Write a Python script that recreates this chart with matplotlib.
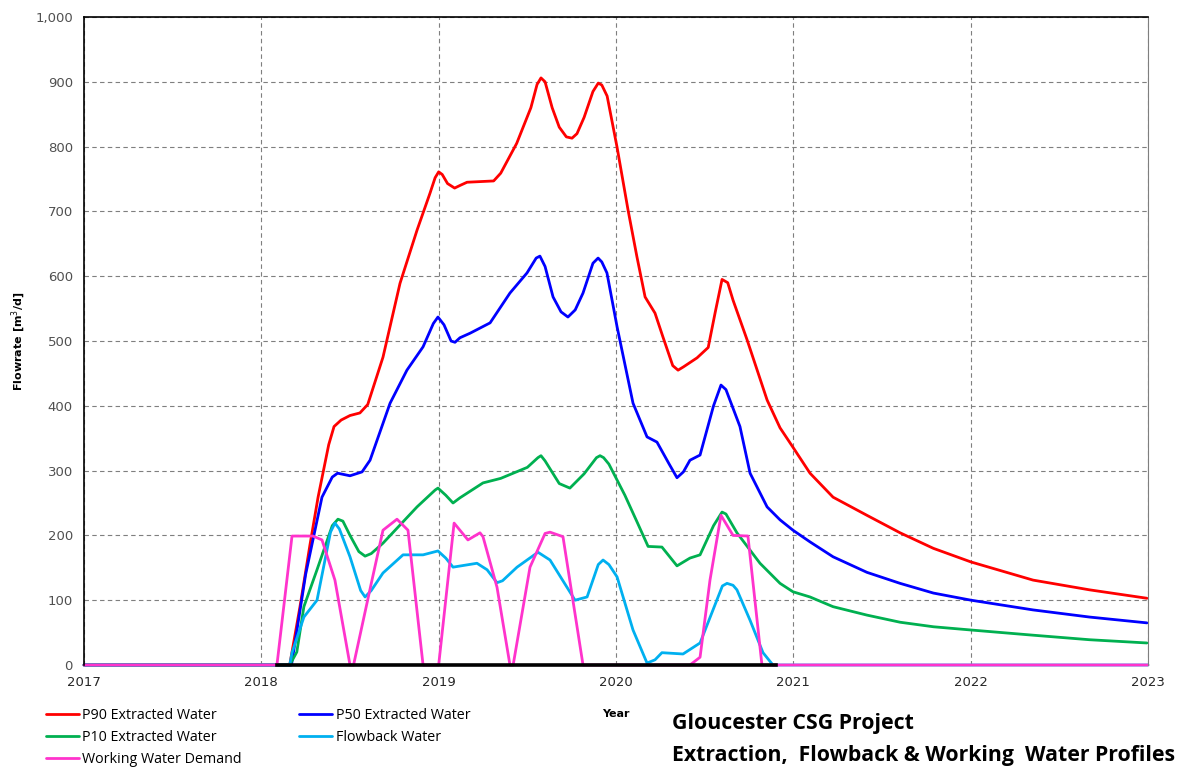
import matplotlib
matplotlib.use("Agg")
import matplotlib.pyplot as plt
from matplotlib.ticker import FuncFormatter

# ---------------- data ----------------
p90_x = [2017.0, 2018.16, 2018.218, 2018.274, 2018.32, 2018.38, 2018.41, 2018.45, 2018.5, 2018.556,
         2018.6, 2018.686, 2018.782, 2018.878, 2018.951, 2018.98, 2019.0, 2019.02, 2019.05, 2019.09,
         2019.12, 2019.16, 2019.31, 2019.35, 2019.44, 2019.52, 2019.555, 2019.577, 2019.6, 2019.64,
         2019.68, 2019.72, 2019.752, 2019.78, 2019.82, 2019.87, 2019.9, 2019.92, 2019.95, 2020.006,
         2020.068, 2020.118, 2020.164, 2020.22, 2020.265, 2020.32, 2020.35, 2020.38, 2020.457, 2020.52,
         2020.56, 2020.598, 2020.63, 2020.66, 2020.739, 2020.852, 2020.925, 2020.998, 2021.094, 2021.224,
         2021.415, 2021.602, 2021.79, 2022.002, 2022.352, 2022.67, 2022.994]
p90_y = [0, 0, 90, 185, 259, 340, 368, 378, 385, 389,
         402, 475, 589, 671, 728, 752, 761, 757, 743, 736,
         740, 745, 747, 759, 805, 860, 896, 906, 900, 860,
         830, 815, 813, 820, 845, 885, 898, 895, 878, 799,
         702, 630, 568, 543, 506, 462, 455, 460, 474, 490,
         545, 595, 590, 563, 502, 409, 366, 336, 296, 259,
         231, 204, 180, 159, 131, 116, 103]

p50_x = [2017.0, 2018.17, 2018.25, 2018.342, 2018.4, 2018.43, 2018.5, 2018.568, 2018.613, 2018.726,
         2018.821, 2018.912, 2018.97, 2018.996, 2019.03, 2019.07, 2019.092, 2019.12, 2019.177, 2019.29,
         2019.402, 2019.498, 2019.55, 2019.571, 2019.6, 2019.645, 2019.69, 2019.729, 2019.77, 2019.814,
         2019.87, 2019.899, 2019.92, 2019.949, 2020.006, 2020.096, 2020.175, 2020.231, 2020.3, 2020.344,
         2020.38, 2020.417, 2020.474, 2020.55, 2020.592, 2020.62, 2020.699, 2020.756, 2020.852, 2020.925,
         2020.998, 2021.094, 2021.224, 2021.415, 2021.602, 2021.79, 2022.002, 2022.352, 2022.67, 2022.994]
p50_y = [0, 0, 140, 259, 290, 296, 292, 298, 316, 404,
         455, 491, 527, 537, 525, 500, 498, 505, 512, 528,
         574, 605, 628, 631, 615, 568, 545, 537, 548, 574,
         620, 628, 622, 605, 522, 404, 352, 344, 310, 289,
         298, 316, 324, 400, 432, 425, 368, 296, 244, 224,
         208, 190, 167, 143, 126, 111, 100, 85, 74, 65]

p10_x = [2017.0, 2018.16, 2018.2, 2018.24, 2018.314, 2018.4, 2018.432, 2018.46, 2018.5, 2018.55,
         2018.585, 2018.62, 2018.686, 2018.878, 2018.98, 2018.996, 2019.04, 2019.081, 2019.12, 2019.25,
         2019.35, 2019.5, 2019.56, 2019.577, 2019.6, 2019.68, 2019.74, 2019.82, 2019.89, 2019.91,
         2019.93, 2019.96, 2020.05, 2020.12, 2020.181, 2020.259, 2020.344, 2020.417, 2020.474, 2020.55,
         2020.598, 2020.62, 2020.682, 2020.812, 2020.925, 2020.998, 2021.094, 2021.224, 2021.415, 2021.602,
         2021.79, 2022.002, 2022.352, 2022.67, 2022.994]
p10_y = [0, 0, 20, 90, 147, 215, 225, 222, 200, 175,
         168, 172, 188, 244, 270, 273, 262, 250, 258, 281,
         288, 305, 320, 323, 315, 280, 273, 295, 320, 323,
         320, 310, 262, 220, 183, 182, 153, 165, 170, 215,
         236, 233, 204, 157, 126, 113, 105, 90, 77, 66,
         59, 54, 46, 39, 34]

flow_x = [2017.0, 2018.16, 2018.173, 2018.24, 2018.314, 2018.39, 2018.415, 2018.44, 2018.5, 2018.56,
          2018.585, 2018.62, 2018.686, 2018.799, 2018.912, 2018.996, 2019.04, 2019.081, 2019.216, 2019.273,
          2019.329, 2019.36, 2019.442, 2019.56, 2019.628, 2019.769, 2019.837, 2019.9, 2019.927, 2019.96,
          2020.006, 2020.096, 2020.175, 2020.22, 2020.259, 2020.378, 2020.474, 2020.547, 2020.6, 2020.626,
          2020.66, 2020.682, 2020.756, 2020.829, 2020.885, 2023.0]
flow_y = [0, 0, 19, 74, 100, 205, 219, 210, 167, 115,
          105, 115, 142, 170, 170, 176, 165, 151, 157, 147,
          127, 130, 151, 174, 162, 100, 105, 155, 162, 155,
          136, 54, 3, 8, 19, 17, 34, 85, 122, 126,
          123, 116, 69, 19, 0, 0]

wwd_x = [2017.0, 2018.088, 2018.173, 2018.291, 2018.342, 2018.415, 2018.5, 2018.52, 2018.624, 2018.686,
         2018.765, 2018.827, 2018.912, 2019.0, 2019.087, 2019.165, 2019.233, 2019.25, 2019.329, 2019.402,
         2019.42, 2019.515, 2019.6, 2019.628, 2019.701, 2019.814, 2020.417, 2020.474, 2020.53, 2020.592,
         2020.66, 2020.744, 2020.823, 2023.0]
wwd_y = [0, 0, 199, 199, 193, 131, 0, 0, 131, 208,
         225, 208, 0, 0, 219, 193, 204, 198, 120, 0,
         0, 151, 203, 205, 198, 0, 0, 12, 131, 231,
         200, 199, 0, 0]

x_ticks = [2017, 2018, 2019, 2020, 2021, 2022, 2023]
y_ticks = [0, 100, 200, 300, 400, 500, 600, 700, 800, 900, 1000]

labels = ["P90 Extracted Water", "P50 Extracted Water", "P10 Extracted Water",
          "Flowback Water", "Working Water Demand"]
colors = ["#ff0000", "#0000ff", "#00b050", "#00b0f0", "#ff33cc"]

# ---------------- figure ----------------
fig = plt.figure(figsize=(11.93, 7.69), dpi=100)
ax = fig.add_axes([84 / 1193, 1 - 665 / 769, (1148 - 84) / 1193, (665 - 17) / 769])

series = [(p90_x, p90_y), (p50_x, p50_y), (p10_x, p10_y), (flow_x, flow_y), (wwd_x, wwd_y)]
handles = []
for (xs, ys), lab, col in zip(series, labels, colors):
    h, = ax.plot(xs, ys, color=col, lw=2.0, label=lab, solid_joinstyle="round",
                 solid_capstyle="round", clip_on=False, zorder=2)
    handles.append(h)

ax.set_xlim(2017, 2023)
ax.set_ylim(0, 1000)
ax.set_xticks(x_ticks)
ax.set_yticks(y_ticks)
ax.yaxis.set_major_formatter(FuncFormatter(lambda v, p: f"{int(v):,}"))
ax.grid(True, color="#7f7f7f", ls=(0, (4, 3)), lw=0.8)
ax.set_axisbelow(True)
ax.tick_params(axis="both", labelsize=9.5, length=0, pad=8)
ax.tick_params(axis="y", colors="#505050")
ax.tick_params(axis="x", colors="#262626")
for s in ["left", "top"]:
    ax.spines[s].set_color("black")
    ax.spines[s].set_linewidth(1.2)
ax.spines["right"].set_color("#7f7f7f")
ax.spines["bottom"].set_color("black")
ax.spines["bottom"].set_linewidth(2.6)
ax.spines["bottom"].set_bounds(2018.09, 2020.9)
ax.spines["bottom"].set_zorder(2.5)

ax.set_ylabel("Flowrate [m$^3$/d]", fontsize=8, fontweight="bold", labelpad=5)
ax.set_xlabel("Year", fontsize=8, fontweight="bold", labelpad=14)

# legend (column-major fill: P90, P10, WWD | P50, Flowback)
order = [0, 2, 4, 1, 3]
fig.legend([handles[i] for i in order], [labels[i] for i in order],
           loc="upper left", bbox_to_anchor=(46 / 1193, 1 - 708 / 769), ncol=2, frameon=False,
           prop={"family": "Open Sans", "size": 10.3}, handlelength=2.3, handletextpad=0.25,
           columnspacing=4.0, labelspacing=0.5, borderaxespad=0, borderpad=0)

fig.text(672 / 1193, 1 - 723 / 769, "Gloucester CSG Project", fontsize=15.3,
         fontweight="bold", family="Open Sans", va="center", ha="left")
fig.text(672 / 1193, 1 - 756 / 769, "Extraction,  Flowback & Working  Water Profiles",
         fontsize=15.3, fontweight="bold", family="Open Sans", va="center", ha="left")

fig.savefig("out.png", dpi=100)
